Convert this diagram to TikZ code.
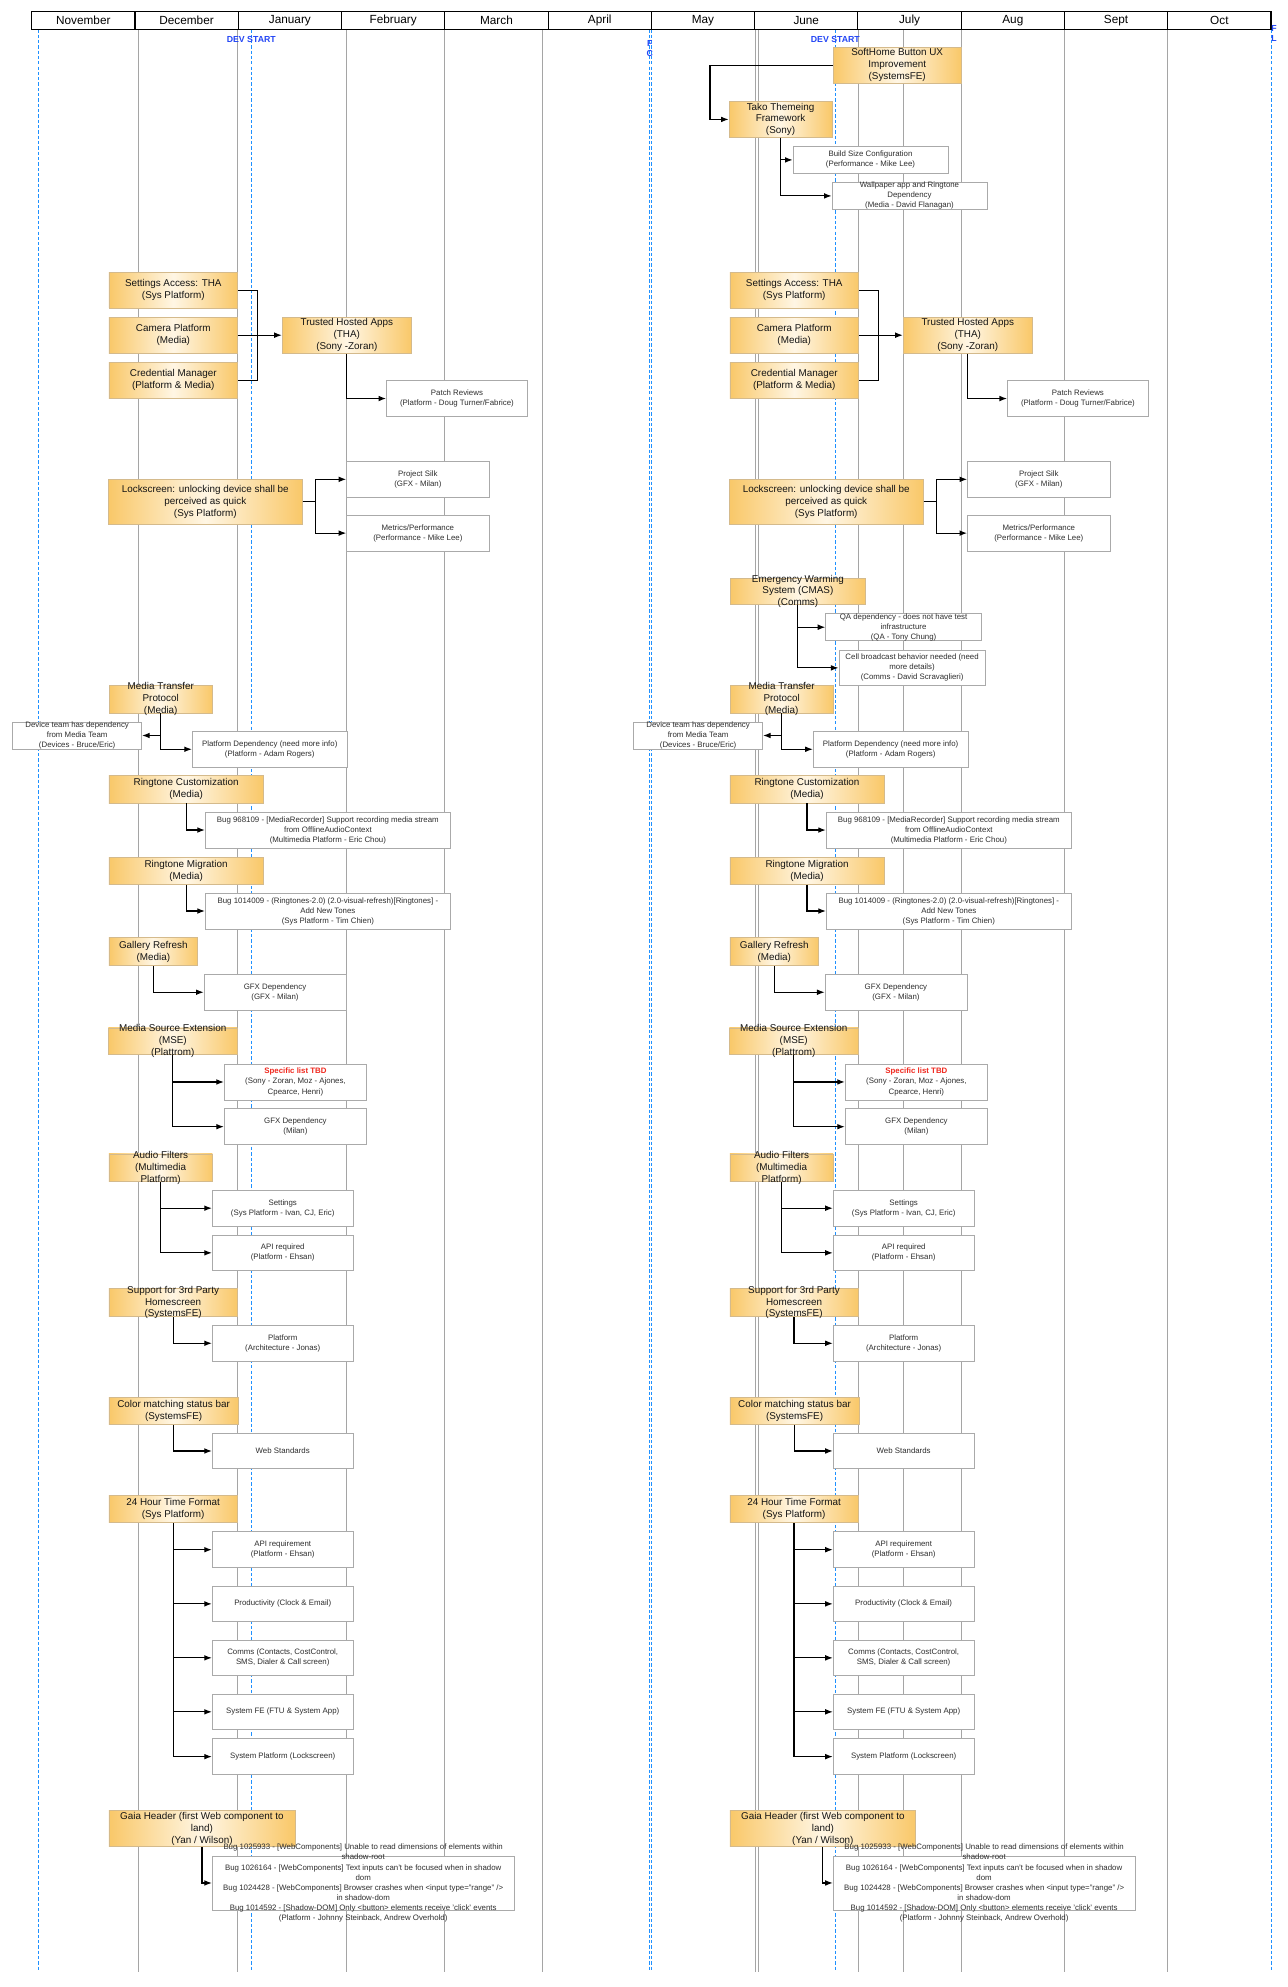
\documentclass[tikz,border=0pt]{standalone}
\usepackage{fontspec}
\setmainfont{Liberation Sans}
\usetikzlibrary{arrows.meta}
\definecolor{orng}{RGB}{249,200,105}
\definecolor{orngmid}{RGB}{255,246,228}
\definecolor{oborder}{RGB}{212,186,140}
\definecolor{wborder}{RGB}{170,170,170}
\definecolor{gridgrey}{RGB}{165,165,165}
\definecolor{devblue}{RGB}{30,144,255}
\definecolor{txtblue}{RGB}{35,70,245}
\definecolor{tbdred}{RGB}{240,40,30}
\tikzset{
 obox/.style={draw=oborder, line width=0.6pt, left color=orng, right color=orng, middle color=orngmid, inner sep=0pt, rectangle},
 wbox/.style={draw=wborder, line width=0.6pt, fill=white, inner sep=0pt, rectangle},
 btxt/.style={align=center, inner sep=0pt, font=\fontsize{7.8}{9.4}\selectfont, text=black!92},
 stxt/.style={align=center, inner sep=0pt, font=\fontsize{6.2}{7.9}\selectfont, text=black!82},
 conn/.style={draw=black, line width=0.9pt, -{Latex[length=6pt,width=4.5pt]}},
 link/.style={draw=black, line width=0.9pt},
 gridline/.style={draw=gridgrey, line width=0.6pt},
 devline/.style={draw=devblue, line width=0.8pt, dash pattern=on 2.6pt off 1.6pt},
 month/.style={font=\fontsize{9.3}{11}\selectfont, inner sep=0pt},
 devlabel/.style={font=\bfseries\fontsize{6.9}{8}\selectfont, text=txtblue, inner sep=0pt},
}
\newcommand\ob[6]{\node[obox, minimum width=#4pt, minimum height=#5pt] (#1) at (#2,#3) {};
 \node[btxt] (#1-t) at (#1.center) {#6};}
\newcommand\wb[6]{\node[wbox, minimum width=#4pt, minimum height=#5pt] (#1) at (#2,#3) {};
 \node[stxt] (#1-t) at (#1.center) {#6};}
\newcommand\roadhalf[1]{%
 \ob{#1set}{136.75}{229}{101.5}{28}{Settings Access: THA\\(Sys Platform)}
 \ob{#1cam}{136.75}{264.5}{101.5}{28.4}{Camera Platform\\(Media)}
 \ob{#1cred}{136.75}{300}{101.5}{28.4}{Credential Manager\\(Platform \& Media)}
 \ob{#1tha}{273.7}{264.5}{102}{28.4}{Trusted Hosted Apps\\(THA)\\(Sony -Zoran)}
 \wb{#1patch}{360.6}{314.5}{111.2}{28.4}{Patch Reviews\\(Platform - Doug Turner/Fabrice)}
 \ob{#1lock}{162}{395.8}{153}{35.6}{Lockscreen: unlocking device shall be\\perceived as quick\\(Sys Platform)}
 \wb{#1silk}{329.75}{378.25}{112.5}{28.1}{Project Silk\\(GFX - Milan)}
 \wb{#1metrics}{329.75}{420.7}{112.5}{28.4}{Metrics/Performance\\(Performance - Mike Lee)}
 \ob{#1mtp}{126.85}{551.85}{81.3}{21.7}{Media Transfer\\Protocol\\(Media)}
 \wb{#1dev}{60.9}{580.4}{101.8}{21.2}{Device team has dependency\\from Media Team\\(Devices - Bruce/Eric)}
 \wb{#1platdep}{212.85}{591.25}{122.3}{28.1}{Platform Dependency (need more info)\\(Platform - Adam Rogers)}
 \ob{#1rc}{146.85}{622.85}{121.7}{21.7}{Ringtone Customization\\(Media)}
 \wb{#1bugA}{258.75}{655}{193.5}{28.4}{Bug 968109 - [MediaRecorder] Support recording media stream\\from OfflineAudioContext\\(Multimedia Platform - Eric Chou)}
 \ob{#1rm}{146.85}{687.05}{121.7}{21.5}{Ringtone Migration\\(Media)}
 \wb{#1bugB}{258.75}{718.9}{193.5}{28.4}{Bug 1014009 - (Ringtones-2.0) (2.0-visual-refresh)[Ringtones] -\\Add New Tones\\(Sys Platform - Tim Chien)}
 \ob{#1gal}{121}{751}{70}{22}{Gallery Refresh\\(Media)}
 \wb{#1gfxA}{217}{783}{112}{28}{GFX Dependency\\(GFX - Milan)}
 \ob{#1mse}{136.35}{821.7}{101.7}{21}{Media Source Extension\\(MSE)\\(Plattrom)}
 \wb{#1tbd}{233.15}{853.8}{112.3}{28.4}{{\color{tbdred}\bfseries Specific list TBD}\\(Sony - Zoran, Moz - Ajones,\\Cpearce, Henri)}
 \wb{#1gfxB}{233.15}{889.1}{112.3}{28.2}{GFX Dependency\\(Milan)}
 \ob{#1af}{126.75}{921.4}{81.5}{21.6}{Audio Filters\\(Multimedia\\Platform)}
 \wb{#1setg}{223.1}{953.4}{111.2}{28.4}{Settings\\(Sys Platform - Ivan, CJ, Eric)}
 \wb{#1api}{223.1}{988.65}{111.2}{27.9}{API required\\(Platform - Ehsan)}
 \ob{#1sp}{136.6}{1027.8}{101.2}{21.6}{Support for 3rd Party\\Homescreen\\(SystemsFE)}
 \wb{#1plat}{223.1}{1060}{111.2}{28}{Platform\\(Architecture - Jonas)}
 \ob{#1cm}{137}{1113.5}{102}{21}{Color matching status bar\\(SystemsFE)}
 \wb{#1web}{223.1}{1145}{111.2}{28}{Web Standards}
 \ob{#1hr}{136.6}{1190.85}{101.2}{21.7}{24 Hour Time Format\\(Sys Platform)}
 \wb{#1apireq}{223.1}{1222.9}{111.2}{28.4}{API requirement\\(Platform - Ehsan)}
 \wb{#1prod}{223.1}{1265.65}{111.2}{28.1}{Productivity (Clock \& Email)}
 \wb{#1comms}{223.1}{1308.25}{111.2}{28.1}{Comms (Contacts, CostControl,\\SMS, Dialer \& Call screen)}
 \wb{#1sysfe}{223.1}{1350.85}{111.2}{28.1}{System FE (FTU \& System App)}
 \wb{#1syspl}{223.1}{1386.2}{111.2}{28.4}{System Platform (Lockscreen)}
 \ob{#1gaia}{159.35}{1443.1}{146.7}{28.2}{Gaia Header (first Web component to\\land)\\(Yan / Wilson)}
 \wb{#1bugs}{286.6}{1485.9}{238.2}{42.6}{Bug 1025933 - [WebComponents] Unable to read dimensions of elements within\\shadow-root\\Bug 1026164 - [WebComponents] Text inputs can't be focused when in shadow\\dom\\Bug 1024428 - [WebComponents] Browser crashes when <input type="range" />\\in shadow-dom\\Bug 1014592 - [Shadow-DOM] Only <button> elements receive 'click' events\\(Platform - Johnny Steinback, Andrew Overhold)}
 \draw[link] (#1set.east) -- ++(15.5,0) |- (#1cred.east);
 \draw[conn] (#1cam.east) -- (#1tha.west);
 \draw[conn] (#1tha.south) |- (#1patch.west);
 \draw[conn] (#1lock.east) -- ++(10.5,0) |- (#1silk.west);
 \draw[conn] (#1lock.east) -- ++(10.5,0) |- (#1metrics.west);
 \draw[conn] (#1mtp.south) |- (#1dev.east);
 \draw[conn] (#1mtp.south) |- (#1platdep.west);
 \draw[conn] (#1rc.south) |- (#1bugA.west);
 \draw[conn] (#1rm.south) |- (#1bugB.west);
 \draw[conn] (#1gal.south) |- (#1gfxA.west);
 \draw[conn] (#1mse.south) |- (#1tbd.west);
 \draw[conn] (#1mse.south) |- (#1gfxB.west);
 \draw[conn] (#1af.south) |- (#1setg.west);
 \draw[conn] (#1af.south) |- (#1api.west);
 \draw[conn] (#1sp.south) |- (#1plat.west);
 \draw[conn] (#1cm.south) |- (#1web.west);
 \draw[conn] (#1hr.south) |- (#1apireq.west);
 \draw[conn] (#1hr.south) |- (#1prod.west);
 \draw[conn] (#1hr.south) |- (#1comms.west);
 \draw[conn] (#1hr.south) |- (#1sysfe.west);
 \draw[conn] (#1hr.south) |- (#1syspl.west);
 \draw[conn] (#1gaia.south) |- (#1bugs.west);
}
\begin{document}
\begin{tikzpicture}[x=1pt,y=-1pt]
\useasboundingbox[fill=white] (0,0) rectangle (1016,1568);
% grid lines
\foreach \x in {109,187,273,350.5,428.3,596,598.8,677.3,713,758.7,839.7,921.4}
  \draw[gridline] (\x,23.1) -- (\x,1556);
\foreach \x in {30.3,198.3,512.6,514.1,659.2,1003.4}
  \draw[devline] (\x,23.1) -- (\x,1556);
% header
\draw[line width=0.9pt] (25,9.2) rectangle (1003,23.1);
\foreach \i in {1,...,11}
  \draw[line width=0.9pt] ({25+81.5*\i},9.2) -- ++(0,13.9);
\foreach \i/\m in {0/November,1/December,2/January,3/February,4/March,5/April,6/May,7/June,8/July,9/Aug,10/Sept,11/Oct}
  \node[month] (month\i) at ({25+81.5*(\i+0.5)},16.3) {\m};
% dev labels
\node[devlabel] (devL) at (198.3,31.5) {DEV START};
\node[devlabel] (devR) at (659.2,30.8) {DEV START};
\node[devlabel] (fcF) at (512.8,34.2) {F};
\node[devlabel] (fcC) at (512.8,42) {C};
\node[devlabel, anchor=west] (flF) at (1003,22.4) {F};
\node[devlabel, anchor=west] (flL) at (1003,30.2) {L};
% left half
\roadhalf{L-}
% right half
\begin{scope}[xshift=490pt]
\roadhalf{R-}
\end{scope}
% right-only items
\ob{soft}{708}{51.5}{101.2}{28.4}{SoftHome Button UX\\Improvement\\(SystemsFE)}
\ob{tako}{615.95}{94.25}{81.3}{28.1}{Tako Themeing\\Framework\\(Sony)}
\wb{build}{686.9}{126.2}{122.2}{21}{Build Size Configuration\\(Performance - Mike Lee)}
\wb{wall}{717.7}{154.6}{122.2}{21}{Wallpaper app and Ringtone\\Dependency\\(Media - David Flanagan)}
\ob{cmas}{629.65}{466.7}{106.5}{21}{Emergency Warming\\System (CMAS)\\(Comms)}
\wb{qa}{713}{494.95}{122.8}{21.3}{QA dependency - does not have test\\infrastructure\\(QA - Tony Chung)}
\wb{cell}{719.75}{527.05}{115.5}{28.1}{Cell broadcast behavior needed (need\\more details)\\(Comms - David Scravaglieri)}
\draw[conn] (soft.west) -- ++(-96.8,0) |- (tako.west);
\draw[conn] (tako.south) |- (build.west);
\draw[conn] (tako.south) |- (wall.west);
\draw[conn] (cmas.south) |- (qa.west);
\draw[conn] (cmas.south) |- (cell.west);
\end{tikzpicture}
\end{document}
